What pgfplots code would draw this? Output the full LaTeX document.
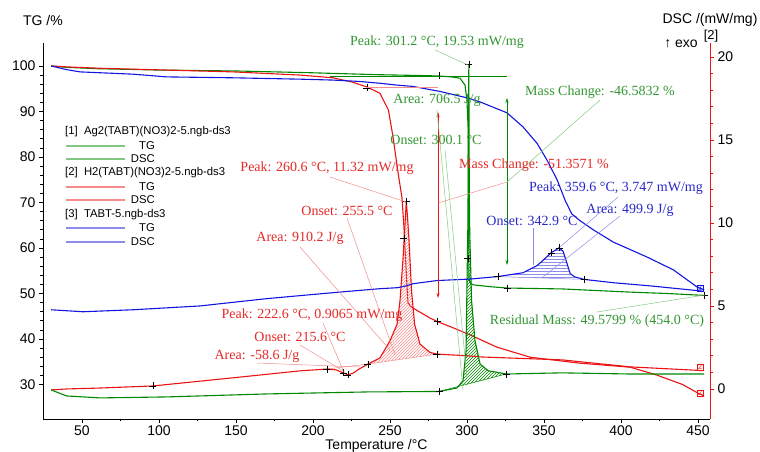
\documentclass[border=0pt]{standalone}
\usepackage{fontspec}
\setmainfont{Liberation Serif}
\setsansfont{Liberation Sans}
\newfontfamily\arial{Liberation Sans}
\usepackage{pgfplots}
\pgfplotsset{compat=1.18}
\usetikzlibrary{patterns,arrows.meta}

\definecolor{cg}{RGB}{0,135,0}
\definecolor{cr}{RGB}{235,20,20}
\definecolor{cb}{RGB}{20,20,225}
\definecolor{tg}{RGB}{50,150,50}
\definecolor{tr}{RGB}{230,40,40}
\definecolor{tb}{RGB}{40,40,200}
\definecolor{lg}{RGB}{130,200,130}
\definecolor{lr}{RGB}{245,140,140}
\definecolor{lb}{RGB}{140,140,235}

\newcommand{\ann}{\fontsize{14}{14}\selectfont}
\newcommand{\tickf}{\arial\fontsize{14}{14}\selectfont}
\newcommand{\legf}{\arial\fontsize{11.3}{11.3}\selectfont}

\begin{document}
\begin{tikzpicture}
\path[use as bounding box] (0,0) rectangle (760pt,452pt);
\pgfplotsset{base/.style={at={(43pt,33pt)}, anchor=south west, scale only axis,
  width=667pt, height=376pt, xmin=24.7, xmax=457.8, clip=false}}

% ---------------- TG axis (left) ----------------
\begin{axis}[base, ymin=22.42, ymax=105.05,
  axis x line*=bottom, axis y line*=left,
  axis line style={-, black, line width=0.8pt},
  xtick={50,100,...,450}, minor x tick num=1,
  ytick={30,40,...,100}, minor y tick num=4,
  tick align=outside, major tick length=4pt, minor tick length=2.5pt,
  tick style={black, line width=0.6pt},
  ticklabel style={font=\tickf},
  xticklabel style={yshift=1pt},
  /pgf/number format/assume math mode=true]
% Ag2 TG
\addplot[cg, line width=1.1pt] coordinates {(30,100) (40,99.7) (60,99.4) (100,99.1) (150,98.9) (200,98.5) (240,98.1) (270,97.9) (282,97.8) (290,97.6) (295.5,97.3) (298.7,95.8) (300,92.5) (300.7,86.6) (301,70) (301.3,53) (302.5,52.2) (304,51.9) (315,51.5) (326,51.2) (362,51) (406,50.3) (430,50) (454,49.58)};
% H2 TG
\addplot[cr, line width=1.1pt] coordinates {(30,100) (40,99.8) (61.7,99.5) (105,99.1) (148,98.7) (191.6,98) (213,97.4) (225,96.5) (235,95.4) (243.5,94) (249,90.3) (252,84.4) (255,77.1) (257.8,71) (259,65) (260.5,55) (261.7,47.9) (264,47) (270,45.8) (276,44.6) (281,43.8) (290,42.6) (302,40.9) (319.5,38.2) (341,36) (373,34.7) (406,33.8) (423,32.1) (440,30) (450,28.1) (454,27.5)};
% TABT TG
\addplot[cb, line width=1.1pt] coordinates {(30,100) (40,99.2) (48.7,98.7) (83,98.2) (105,97.6) (148,97.4) (191.6,97.1) (213,96.9) (230,96.6) (243.5,96.2) (254.5,95.8) (265,95.5) (282.5,94.4) (300,93) (308.5,92.1) (326,89.7) (336.4,86.6) (345.5,83) (352,79.3) (358.5,75) (363.7,70.5) (368,67.5) (373.4,66) (382,64) (395,61.3) (417,58) (434,55.2) (449.5,51.4) (454,50.8)};
\addplot[only marks, mark=+, mark size=3.5pt, black, mark options={line width=0.5pt}] coordinates {(235,95.2) (282,97.8) (281,43.8) (326,51.2) (454,49.58)};
\end{axis}

% ---------------- DSC axis (right) ----------------
\begin{axis}[base, ymin=-1.81, ymax=20.84,
  axis x line*=bottom, x axis line style={draw=none}, xtick=\empty,
  axis y line*=right,
  y axis line style={-, cr, line width=0.8pt},
  ytick={0,5,...,20}, minor y tick num=4,
  tick align=outside, major tick length=4pt, minor tick length=2.5pt,
  tick style={cr, line width=0.6pt},
  ticklabel style={font=\tickf, black},
  /pgf/number format/assume math mode=true]
% hatched areas
\addplot[draw=none, pattern=north east lines, pattern color=lr] coordinates {(235.7,1.5) (243.5,1.87) (250,2.9) (254.6,3.9) (256.5,5.3) (258.5,7.9) (259.5,9.5) (260.6,11.32) (261.5,10.2) (262.4,8.9) (264,5.9) (266,3.9) (269.5,2.7) (276,2.2) (280.5,2.1) (235.7,1.5)};
\addplot[draw=none, pattern=north east lines, pattern color=cg] coordinates {(282,-0.15) (293.5,0.06) (297.4,0.5) (299.4,2.3) (300,6.3) (300.6,10) (301.2,19.53) (301.5,12) (301.8,9.4) (303,5.3) (305.2,2.9) (308.5,1.5) (313.7,1.1) (325.4,0.9) (282,-0.15)};
\addplot[draw=none, pattern=horizontal lines, pattern color=lb] coordinates {(320,6.77) (336.4,7.0) (345.5,7.43) (350,7.8) (354.6,8.2) (359.8,8.5) (362.4,8.3) (365,7.55) (367,6.95) (370,6.75) (376,6.6) (320,6.77)};
% baselines
\addplot[lr, line width=0.5pt] coordinates {(209,1.2) (235.7,1.5) (280.5,2.1)};
\addplot[cg, line width=0.5pt] coordinates {(282,-0.15) (325.4,0.9)};
\addplot[lb, line width=0.5pt] coordinates {(320,6.77) (376,6.6)};
% H2 DSC
\addplot[cr, line width=1.1pt] coordinates {(30,-0.06) (40,0) (60,0.05) (96,0.18) (148,0.67) (191.6,1.09) (209,1.2) (215,1.15) (219.5,0.97) (222.7,0.85) (226,0.95) (230,1.2) (235.7,1.5) (243.5,1.87) (250,2.9) (254.6,3.9) (256.5,5.3) (258.5,7.9) (259.5,9.5) (260.6,11.32) (261.5,10.2) (262.4,8.9) (264,5.9) (266,3.9) (269.5,2.7) (276,2.2) (280.5,2.1) (300,2.0) (308.5,1.93) (362,1.75) (406,1.33) (450,1.12) (454,1.1)};
% Ag2 DSC
\addplot[cg, line width=1.1pt] coordinates {(30,-0.06) (40,-0.42) (61.7,-0.54) (105,-0.48) (170,-0.3) (235,-0.18) (282,-0.15) (293.5,0.06) (297.4,0.5) (299.4,2.3) (300,6.3) (300.6,10) (301.2,19.53) (301.5,12) (301.8,9.4) (303,5.3) (305.2,2.9) (308.5,1.5) (313.7,1.1) (325.4,0.9) (362,0.97) (406,0.9) (454,0.9)};
% TABT DSC
\addplot[cb, line width=1.1pt] coordinates {(30,4.77) (50.6,4.65) (83,4.77) (126.6,5.0) (170,5.44) (213,5.8) (243.5,6.04) (255,6.1) (260,6.2) (265,6.34) (280.5,6.53) (302,6.62) (320,6.77) (336.4,7.0) (345.5,7.43) (350,7.8) (354.6,8.2) (359.8,8.5) (362.4,8.3) (365,7.55) (367,6.95) (370,6.75) (376,6.6) (395,6.4) (420,6.2) (450,5.92) (454,5.88)};
\addplot[only marks, mark=+, mark size=3.5pt, black, mark options={line width=0.5pt}] coordinates {(96,0.18) (209,1.2) (219.5,0.97) (222.7,0.85) (235.7,1.5) (259,9.06) (260.6,11.32) (280.5,2.1) (282,-0.15) (301.2,19.53) (300.6,7.85) (325.4,0.9) (320,6.77) (354.6,8.2) (359.8,8.5) (376,6.6)};
\end{axis}

% ---------------- overlay in pixel coordinates ----------------
\begin{axis}[base, xmin=43, xmax=710, ymin=43, ymax=419, y dir=reverse, hide axis]
% legend
\addplot[lg, line width=1.2pt] coordinates {(66,146) (125,146)};
\addplot[lg, line width=1.2pt] coordinates {(66,159) (125,159)};
\addplot[lr, line width=1.2pt] coordinates {(66,187) (125,187)};
\addplot[lr, line width=1.2pt] coordinates {(66,200) (125,200)};
\addplot[lb, line width=1.2pt] coordinates {(66,228) (125,228)};
\addplot[lb, line width=1.2pt] coordinates {(66,242) (125,242)};
\node[anchor=west, font=\legf, inner sep=0pt] at (axis cs:65,132) {[1]\ \ Ag2(TABT)(NO3)2-5.ngb-ds3};
\node[anchor=east, font=\legf, inner sep=0pt] at (axis cs:155,146) {TG};
\node[anchor=east, font=\legf, inner sep=0pt] at (axis cs:155,159) {DSC};
\node[anchor=west, font=\legf, inner sep=0pt] at (axis cs:65,173) {[2]\ \ H2(TABT)(NO3)2-5.ngb-ds3};
\node[anchor=east, font=\legf, inner sep=0pt] at (axis cs:155,187) {TG};
\node[anchor=east, font=\legf, inner sep=0pt] at (axis cs:155,200) {DSC};
\node[anchor=west, font=\legf, inner sep=0pt] at (axis cs:65,215) {[3]\ \ TABT-5.ngb-ds3};
\node[anchor=east, font=\legf, inner sep=0pt] at (axis cs:155,228) {TG};
\node[anchor=east, font=\legf, inner sep=0pt] at (axis cs:155,242) {DSC};
% tangents and arrows
\addplot[lr, line width=0.6pt] coordinates {(367,87) (438,87)};
\addplot[cg, line width=0.6pt] coordinates {(330,76) (507,76)};
\addplot[cr, line width=0.6pt, {Stealth[length=5pt,width=3pt]}-{Stealth[length=5pt,width=3pt]}] coordinates {(438,112) (438,298)};
\addplot[cg, line width=0.6pt, {Stealth[length=5pt,width=3pt]}-{Stealth[length=5pt,width=3pt]}] coordinates {(507,98) (507,265)};
% leader lines green
\addplot[lg, line width=0.5pt] coordinates {(435,50) (468,65)};
\addplot[lg, line width=0.5pt] coordinates {(437,110) (463,390)};
\addplot[lg, line width=0.5pt] coordinates {(445,150) (467,378)};
\addplot[lg, line width=0.5pt] coordinates {(600,100) (507,182)};
\addplot[lg, line width=0.5pt] coordinates {(597,312) (705,295)};
% leader lines red
\addplot[lr, line width=0.5pt] coordinates {(330,177) (406,202)};
\addplot[lr, line width=0.5pt] coordinates {(347,218) (395,355)};
\addplot[lr, line width=0.5pt] coordinates {(300,247) (390,350)};
\addplot[lr, line width=0.5pt] coordinates {(507,182) (438,203)};
\addplot[lr, line width=0.5pt] coordinates {(323,323) (343,370)};
\addplot[lr, line width=0.5pt] coordinates {(300,345) (345,372)};
\addplot[lr, line width=0.5pt] coordinates {(257,363) (360,367)};
% leader lines blue
\addplot[lb, line width=0.5pt] coordinates {(618,197) (560,247)};
\addplot[lb, line width=0.5pt] coordinates {(620,216) (543,277)};
\addplot[lb, line width=0.5pt] coordinates {(533,228) (533,265)};
% annotations
\node[font=\ann, text=tg, inner sep=0pt] at (axis cs:437,42) {Peak: 301.2 °C, 19.53 mW/mg};
\node[font=\ann, text=tg, inner sep=0pt] at (axis cs:437,100) {Area: 706.5 J/g};
\node[font=\ann, text=tg, inner sep=0pt] at (axis cs:436,140) {Onset: 300.1 °C};
\node[font=\ann, text=tg, inner sep=0pt] at (axis cs:600,92) {Mass Change: -46.5832 \%};
\node[font=\ann, text=tg, inner sep=0pt] at (axis cs:597,321) {Residual Mass: 49.5799 \% (454.0 °C)};
\node[font=\ann, text=tr, inner sep=0pt] at (axis cs:327,168) {Peak: 260.6 °C, 11.32 mW/mg};
\node[font=\ann, text=tr, inner sep=0pt] at (axis cs:347,211) {Onset: 255.5 °C};
\node[font=\ann, text=tr, inner sep=0pt] at (axis cs:300,238) {Area: 910.2 J/g};
\node[font=\ann, text=tr, inner sep=0pt] at (axis cs:534,165) {Mass Change: -51.3571 \%};
\node[font=\ann, text=tr, inner sep=0pt] at (axis cs:312,315) {Peak: 222.6 °C, 0.9065 mW/mg};
\node[font=\ann, text=tr, inner sep=0pt] at (axis cs:300,337) {Onset: 215.6 °C};
\node[font=\ann, text=tr, inner sep=0pt] at (axis cs:257,356) {Area: -58.6 J/g};
\node[font=\ann, text=tb, inner sep=0pt] at (axis cs:616,188) {Peak: 359.6 °C, 3.747 mW/mg};
\node[font=\ann, text=tb, inner sep=0pt] at (axis cs:630,210) {Area: 499.9 J/g};
\node[font=\ann, text=tb, inner sep=0pt] at (axis cs:532,221) {Onset: 342.9 °C};
% end boxes
\node[font=\arial\fontsize{7}{7}\selectfont, text=cb, draw=cb, inner sep=0.8pt, line width=0.4pt] at (axis cs:700,288) {3};
\node[font=\arial\fontsize{7}{7}\selectfont, text=cr, draw=cr, inner sep=0.8pt, line width=0.4pt] at (axis cs:700,367) {2};
\node[font=\arial\fontsize{7}{7}\selectfont, text=cr, draw=cr, inner sep=0.8pt, line width=0.4pt] at (axis cs:700,393) {2};
% axis titles
\node[font=\tickf, inner sep=0pt] at (axis cs:43,20) {TG /\%};
\node[font=\tickf, inner sep=0pt] at (axis cs:710,20) {DSC /(mW/mg)};
\node[font=\tickf, inner sep=0pt] at (axis cs:681,44) {↑ exo};
\node[font=\arial\fontsize{13}{13}\selectfont, inner sep=0pt] at (axis cs:711,36) {[2]};
\node[font=\tickf, inner sep=0pt] at (axis cs:376.5,446) {Temperature /°C};
\end{axis}
\end{tikzpicture}
\end{document}
